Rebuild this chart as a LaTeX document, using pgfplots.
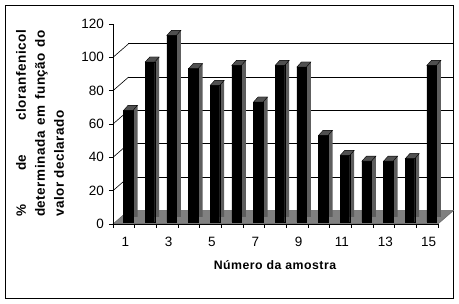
\documentclass[border=0pt]{standalone}
\usepackage{fontspec}
\setmainfont{Liberation Sans}
\newfontfamily\labelfont[LetterSpace=4]{Liberation Sans}
\usepackage{pgfplots}
\pgfplotsset{compat=1.18}
\usepackage{pgfplotstable}
\definecolor{sidegray}{HTML}{5E5E5E}
\definecolor{topgray}{HTML}{505050}
\definecolor{floorgray}{HTML}{808080}
\pgfdeclareplotmark{topface}{%
  \pgfpathmoveto{\pgfpoint{-0.25pt}{2pt}}%
  \pgfpathlineto{\pgfpoint{9.25pt}{2pt}}%
  \pgfpathlineto{\pgfpoint{13.75pt}{7pt}}%
  \pgfpathlineto{\pgfpoint{4.25pt}{7pt}}%
  \pgfpathclose
  \pgfusepathqfillstroke}
\pgfplotstableread{
x y
1 67
2 96
3 112
4 92
5 82
6 94
7 72
8 94
9 93
10 52
11 40
12 36.5
13 36.5
14 38
15 94
}\datatab
\begin{document}
\begin{tikzpicture}
\path[use as bounding box] (0,0) rectangle (459pt,304pt);
\draw[line width=1pt] (5.5pt,5.5pt) rectangle (453.5pt,298.5pt);
\begin{axis}[
  at={(113pt,80pt)}, anchor=south west,
  scale only axis, width=325pt, height=200pt,
  xmin=0.5, xmax=15.5, ymin=0, ymax=120,
  clip=false, axis on top,
  axis x line*=bottom, axis y line*=left,
  axis line style={-, line width=0.8pt},
  xtick={0.5,1.5,...,15.5}, xticklabels={},
  extra x ticks={1,3,5,7,9,11,13,15},
  extra x tick labels={1,3,5,7,9,11,13,15},
  extra x tick style={major tick length=0pt},
  ytick={0,20,...,120},
  tick align=outside, major tick length=4pt,
  tick style={black, line width=0.8pt},
  /pgf/number format/assume math mode=true,
  ticklabel style={font=\fontsize{13.5}{15}\selectfont},
  xticklabel style={yshift=-9.5pt, xshift=1.5pt},
  yticklabel style={xshift=-1.5pt},
]
% back gridlines and diagonals
\pgfplotsinvokeforeach{20,40,60,80,100}{
  \draw[black, line width=0.8pt] ([shift={(15.5pt,13.5pt)}]axis cs:0.5,#1) -- ([shift={(15.5pt,13.5pt)}]axis cs:15.5,#1);
  \draw[black, line width=0.6pt] (axis cs:0.5,#1) -- ([shift={(15.5pt,13.5pt)}]axis cs:0.5,#1);
}
% floor
\fill[floorgray, draw=black!60, line width=0.5pt] (axis cs:0.5,0) -- (axis cs:15.5,0) -- ([shift={(15.5pt,13.5pt)}]axis cs:15.5,0) -- ([shift={(15.5pt,13.5pt)}]axis cs:0.5,0) -- cycle;
% side faces
\addplot[ybar, bar width=9.5pt, bar shift=9pt, yshift=7pt, fill=sidegray, draw=none] table[x=x,y=y] {\datatab};
% front faces
\addplot[ybar, bar width=9.5pt, bar shift=4.5pt, yshift=2pt, fill=black, draw=black, line width=0.4pt] table[x=x,y=y] {\datatab};
% top faces
\addplot[only marks, mark=topface, mark options={fill=topgray, draw=black, line width=0.4pt}] table[x=x,y=y] {\datatab};
\end{axis}
\node[rotate=90, align=left, font=\labelfont\bfseries\fontsize{13.5}{19}\selectfont, inner sep=0pt] at (40pt,180.5pt)
 {\makebox[187pt]{\%\hfill de\hfill cloranfenicol}\\
  \makebox[187pt][s]{determinada em função do}\\
  \makebox[187pt][l]{valor declarado}};
\node[font=\labelfont\bfseries\fontsize{12.3}{14}\selectfont, inner sep=0pt] at (275pt,39pt) {Número da amostra};
\end{tikzpicture}
\end{document}
